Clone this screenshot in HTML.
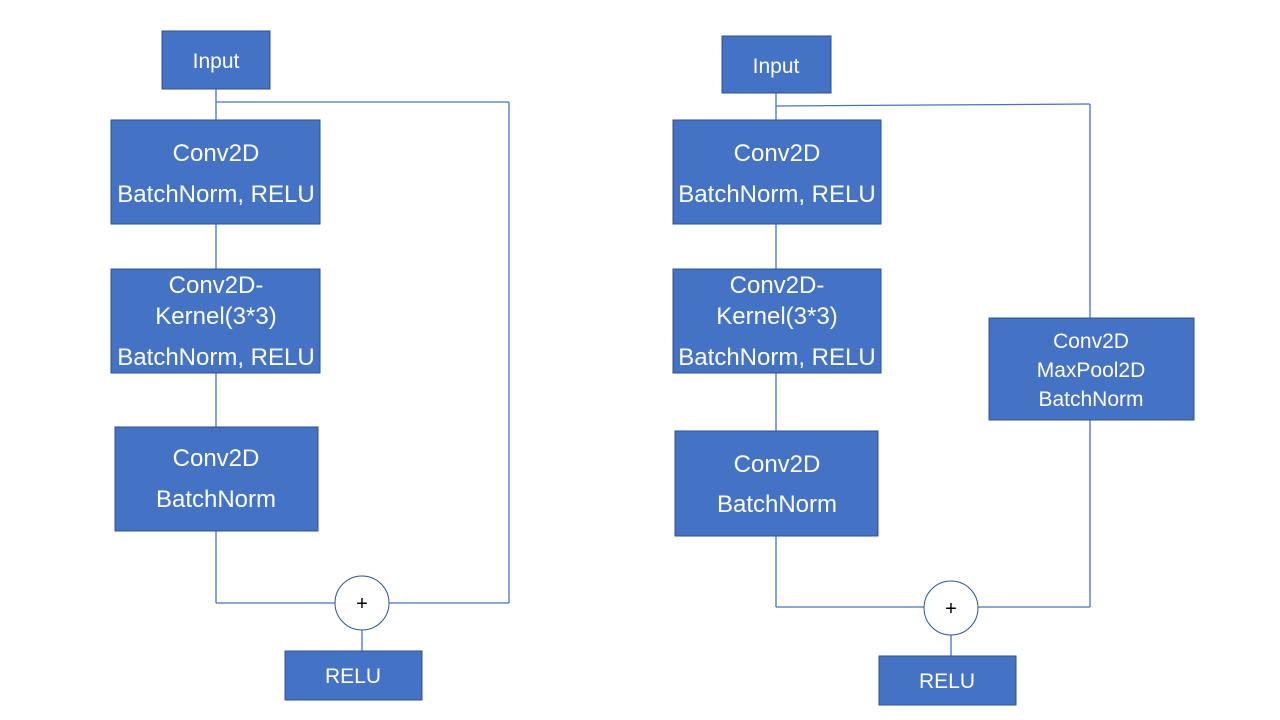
<!DOCTYPE html>
<html><head><meta charset="utf-8"><style>
html,body{margin:0;padding:0;background:#fff;width:1280px;height:720px;overflow:hidden}
text{font-family:"Liberation Sans",sans-serif;fill:#fff;text-anchor:middle}
</style></head><body>
<svg width="1280" height="720" viewBox="0 0 1280 720" xmlns="http://www.w3.org/2000/svg">
<g stroke="#4472C4" stroke-width="1.3" fill="none">
<line x1="216" y1="89" x2="216" y2="427"/>
<line x1="216" y1="531" x2="216" y2="603"/>
<line x1="216" y1="603" x2="335" y2="603"/>
<line x1="389" y1="603" x2="509" y2="603"/>
<line x1="509" y1="603" x2="509" y2="102"/>
<line x1="216" y1="102" x2="509" y2="102"/>
<line x1="362" y1="630" x2="362" y2="651"/>
<line x1="776" y1="93" x2="776" y2="431"/>
<line x1="776" y1="536" x2="776" y2="607"/>
<line x1="776" y1="607" x2="924" y2="607"/>
<line x1="978" y1="607" x2="1090" y2="607"/>
<line x1="1090" y1="607" x2="1090" y2="420"/>
<line x1="1090" y1="318" x2="1090" y2="104"/>
<line x1="776" y1="106" x2="1090" y2="104"/>
<line x1="951" y1="635" x2="951" y2="656"/>
</g>
<g fill="#4472C4" stroke="#2F528F" stroke-width="1">
<rect x="162" y="31" width="108" height="58"/>
<rect x="111" y="120" width="209" height="104"/>
<rect x="111" y="269" width="209" height="104"/>
<rect x="115" y="427" width="203" height="104"/>
<rect x="285" y="651" width="137" height="49"/>
<rect x="722" y="36" width="109" height="57"/>
<rect x="673" y="120" width="208" height="104"/>
<rect x="673" y="269" width="208" height="104"/>
<rect x="675" y="431" width="203" height="105"/>
<rect x="989" y="318" width="205" height="102"/>
<rect x="879" y="656" width="137" height="49"/>
</g>
<g fill="#fff" stroke="#2F528F" stroke-width="1">
<circle cx="362" cy="603" r="27"/>
<circle cx="951" cy="608" r="27"/>
</g>
<g style="font-size:21px">
<text x="216" y="68">Input</text>
<text x="776" y="73">Input</text>
<text x="353" y="683">RELU</text>
<text x="947" y="688">RELU</text>
<text x="1091" y="348">Conv2D</text>
<text x="1091" y="377">MaxPool2D</text>
<text x="1091" y="406">BatchNorm</text>
</g>
<g style="font-size:24px">
<text x="216" y="161">Conv2D</text>
<text x="216" y="202">BatchNorm, RELU</text>
<text x="216" y="293">Conv2D-</text>
<text x="216" y="324">Kernel(3*3)</text>
<text x="216" y="365">BatchNorm, RELU</text>
<text x="216" y="466">Conv2D</text>
<text x="216" y="507">BatchNorm</text>
<text x="777" y="161">Conv2D</text>
<text x="777" y="202">BatchNorm, RELU</text>
<text x="777" y="293">Conv2D-</text>
<text x="777" y="324">Kernel(3*3)</text>
<text x="777" y="365">BatchNorm, RELU</text>
<text x="777" y="472">Conv2D</text>
<text x="777" y="512">BatchNorm</text>
</g>
<g style="font-size:20px">
<text x="362" y="610" style="fill:#000">+</text>
<text x="951" y="615" style="fill:#000">+</text>
</g>
</svg>
</body></html>
